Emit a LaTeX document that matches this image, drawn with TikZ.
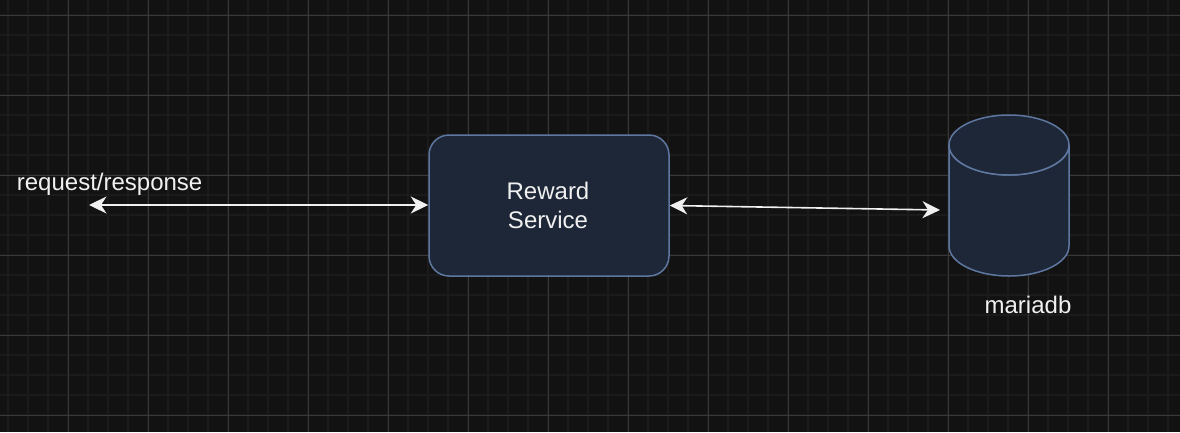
\documentclass[tikz,border=0pt]{standalone}
\usepackage{fontspec}
\setmainfont{Liberation Sans}
\usetikzlibrary{arrows.meta}
\definecolor{bg}{HTML}{121212}
\definecolor{gridminor}{HTML}{1B1B1B}
\definecolor{gridmajor}{HTML}{383838}
\definecolor{boxfill}{HTML}{1E2737}
\definecolor{boxline}{HTML}{5E77A0}
\definecolor{ink}{HTML}{F0F0F0}
\tikzset{
  svcbox/.style={draw=boxline, fill=boxfill, line width=1.5pt, rounded corners=20pt,
    minimum width=240pt, minimum height=141pt, inner sep=0pt},
  txt/.style={text=ink, font=\fontsize{24}{29}\selectfont, inner sep=0pt},
  flow/.style={draw=ink, line width=1.6pt,
    {Stealth[length=17.5pt,width=17pt,inset=5.5pt]}-{Stealth[length=17.5pt,width=17pt,inset=5.5pt]}},
  dbshape/.style={draw=boxline, fill=boxfill, line width=1.5pt}
}
\begin{document}
\begin{tikzpicture}[x=1pt,y=-1pt]
\useasboundingbox[fill=bg] (0,0) rectangle (1180,432);
% minor grid
\foreach \x in {8,28,...,1180} \draw[gridminor, line width=1.6pt] (\x,0) -- (\x,432);
\foreach \y in {15,35,...,432} \draw[gridminor, line width=1.6pt] (0,\y) -- (1180,\y);
% major grid
\foreach \x in {68,148,...,1180} \draw[gridmajor, line width=1pt] (\x,0) -- (\x,432);
\foreach \y in {15,95,...,432} \draw[gridmajor, line width=1pt] (0,\y) -- (1180,\y);

% service box
\node[svcbox] (svc) at (549,205.5) {};
\node[txt, anchor=base] (svcl1) at (548,199.3) {Reward};
\node[txt, anchor=base] (svcl2) at (548,228.3) {Service};

% database cylinder
\node[minimum width=120pt, minimum height=161pt, inner sep=0pt] (db) at (1009,195.5) {};
\path[dbshape] (949,145) -- (949,246) arc[start angle=180, end angle=0, x radius=60, y radius=30]
  -- (1069,145) arc[start angle=0, end angle=180, x radius=60, y radius=30] -- cycle;
\path[dbshape] (1009,145) ellipse [x radius=60, y radius=30];
\node[txt, anchor=base] (dblabel) at (1028,313) {mariadb};

% request/response
\node[txt, anchor=base west] (reqlabel) at (16.7,190) {request/response};
\coordinate (client) at (89,205);
\coordinate (dbin) at (940,210);

\draw[flow] (client) -- (client -| svc.west);
\draw[flow] (svc.east) -- (dbin);
\end{tikzpicture}
\end{document}
